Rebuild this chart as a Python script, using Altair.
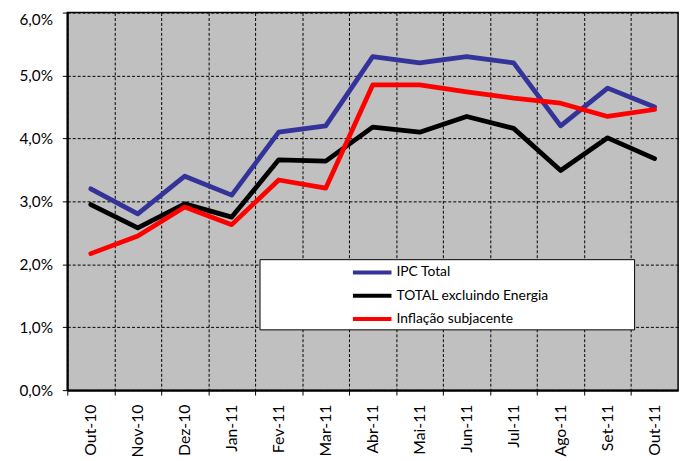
import altair as alt
import pandas as pd

months = ["Out-10", "Nov-10", "Dez-10", "Jan-11", "Fev-11", "Mar-11", "Abr-11",
          "Mai-11", "Jun-11", "Jul-11", "Ago-11", "Set-11", "Out-11"]
series_names = ["IPC Total", "TOTAL excluindo Energia", "Inflação subjacente"]
ipc_total = [3.2, 2.8, 3.4, 3.1, 4.1, 4.2, 5.3, 5.2, 5.3, 5.2, 4.2, 4.8, 4.5]
total_excl_energia = [2.95, 2.58, 2.96, 2.75, 3.66, 3.64, 4.18, 4.10, 4.35, 4.16, 3.49, 4.01, 3.68]
inflacao_subjacente = [2.17, 2.45, 2.91, 2.63, 3.34, 3.21, 4.85, 4.85, 4.74, 4.64, 4.56, 4.35, 4.46]
colors = ["#333399", "#000000", "#FF0000"]
y_ticks = [0, 1, 2, 3, 4, 5, 6]

rows = []
for name, vals in zip(series_names, [ipc_total, total_excl_energia, inflacao_subjacente]):
    for i, (m, v) in enumerate(zip(months, vals)):
        rows.append({"mes": m, "serie": name, "valor": v / 100.0,
                     "ordem": series_names.index(name)})
df = pd.DataFrame(rows)

W, H = 618, 382
step = W / len(months)
FONT = "Lato"

x = alt.X("mes:N", sort=months, title=None,
          scale=alt.Scale(type="point", padding=0.5),
          axis=alt.Axis(labelAngle=-90, labelAlign="right", labelBaseline="middle",
                        tickOffset=-step / 2, labelOffset=step / 2,
                        grid=True, gridColor="#000000", gridDash=[3, 2], gridWidth=1,
                        tickColor="#000000", tickSize=5, tickWidth=1,
                        domainColor="#000000", domainWidth=2,
                        labelFont=FONT, labelFontSize=16, labelColor="#000000",
                        labelPadding=9))
y = alt.Y("valor:Q", title=None,
          scale=alt.Scale(domain=[0, 0.06], nice=False, zero=True),
          axis=alt.Axis(values=[t / 100 for t in y_ticks],
                        labelExpr="replace(format(datum.value, '.1%'), '.', ',')",
                        labelBaseline={"condition": {"test": "datum.value >= 0.06", "value": "top"},
                                       "value": "middle"},
                        grid=True, gridColor="#000000", gridDash=[3, 2], gridWidth=1,
                        tickColor="#000000", tickSize=5, tickWidth=1,
                        domainColor="#000000", domainWidth=2,
                        labelFont=FONT, labelFontSize=15.5, labelColor="#000000",
                        labelPadding=10))

box = alt.Chart(alt.Data(values=[{"a": 1}])).mark_rect(
    fill="#FFFFFF", stroke="#000000", strokeWidth=1
).encode(x=alt.value(195), x2=alt.value(574), y=alt.value(250), y2=alt.value(321))

lines = alt.Chart(df).mark_line(strokeWidth=4.8, strokeCap="round", strokeJoin="round").encode(
    x=x,
    y=y,
    color=alt.Color("serie:N", sort=series_names,
                    scale=alt.Scale(domain=series_names, range=colors),
                    legend=alt.Legend(title=None, orient="none", legendX=287, legendY=255,
                                      symbolType="stroke", symbolSize=1521,
                                      symbolStrokeWidth=4, clipHeight=16, rowPadding=7.5,
                                      labelOffset=3, labelFont=FONT, labelFontSize=14,
                                      labelColor="#000000", padding=0, labelLimit=400)),
    order=alt.Order("ordem:Q"),
)

chart = alt.layer(box, lines).properties(
    width=W, height=H,
    autosize=alt.AutoSizeParams(type="none"),
    padding={"left": 60, "top": 2, "right": 8, "bottom": 66},
    background="#FFFFFF",
).configure_view(
    fill="#C0C0C0", stroke="#000000", strokeWidth=1.5
)

chart.save("out.html", embed_options={"renderer": "svg", "actions": False})
